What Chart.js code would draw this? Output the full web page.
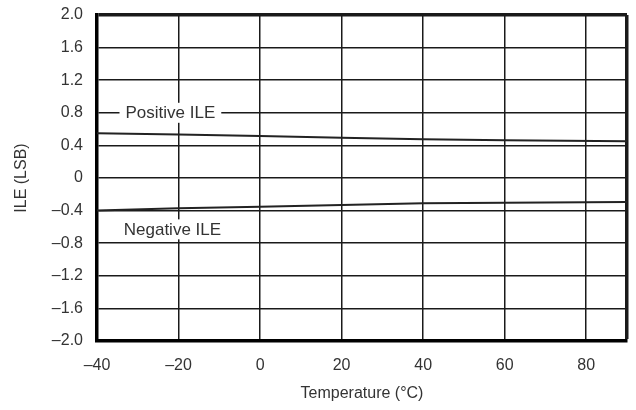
<!DOCTYPE html>
<html>
<head>
<meta charset="utf-8">
<script src="https://cdn.jsdelivr.net/npm/chart.js@4/dist/chart.umd.min.js"></script>
<style>
  html, body { margin: 0; padding: 0; background: #fff; }
  #wrap { width: 636px; height: 410px; }
</style>
</head>
<body>
<div id="wrap"><canvas id="ileChart" width="636" height="410"></canvas></div>
<script>
// ILE vs temperature
const temps = [-40, -20, 0, 20, 40, 60, 90];
const positiveIle = [0.55, 0.535, 0.515, 0.495, 0.475, 0.463, 0.45];
const negativeIle = [-0.40, -0.372, -0.352, -0.332, -0.31, -0.303, -0.295];
const xTicks = [-40, -20, 0, 20, 40, 60, 80];
const curveLabels = [
  { text: 'Positive ILE', x: -22, y: 0.8 },
  { text: 'Negative ILE', x: -21.5, y: -0.63 }
];

const ink = '#1a1a1a';
const font = '"Liberation Sans", Arial, sans-serif';
// negative numbers use an en dash
const fmt = (v, digits) => {
  const s = Math.abs(v).toFixed(digits);
  return v < 0 ? '\u2013' + s : s;
};

// fixed axis sizes; drop the edge padding the tick labels would ask for
const fixSize = (w, h) => s => {
  if (w) s.width = w;
  if (h) s.height = h;
  s.paddingTop = s.paddingBottom = s.paddingLeft = s.paddingRight = 0;
};

// label boxes sit on top of the grid
const curveLabelPlugin = {
  id: 'curveLabels',
  afterDatasetsDraw(chart) {
    const { ctx, scales: { x, y } } = chart;
    ctx.save();
    ctx.font = '17px ' + font;
    ctx.textAlign = 'center';
    ctx.textBaseline = 'middle';
    curveLabels.forEach(l => {
      const px = x.getPixelForValue(l.x);
      const py = y.getPixelForValue(l.y);
      const w = ctx.measureText(l.text).width;
      ctx.fillStyle = '#fff';
      ctx.fillRect(px - w / 2 - 6, py - 10, w + 12, 20);
      ctx.fillStyle = '#333';
      ctx.fillText(l.text, px, py + 1);
    });
    ctx.restore();
  }
};

const toPoints = vals => temps.map((t, i) => ({ x: t, y: vals[i] }));

new Chart(document.getElementById('ileChart').getContext('2d'), {
  type: 'scatter',
  data: {
    datasets: [
      { label: 'Positive ILE', data: toPoints(positiveIle) },
      { label: 'Negative ILE', data: toPoints(negativeIle) }
    ].map(d => Object.assign(d, {
      showLine: true,
      borderColor: '#222',
      borderWidth: 2,
      pointRadius: 0,
      tension: 0
    }))
  },
  options: {
    responsive: false,
    animation: false,
    layout: { autoPadding: false, padding: { top: 15, right: 9, left: 0, bottom: 0 } },
    plugins: { legend: { display: false }, tooltip: { enabled: false } },
    scales: {
      x: {
        type: 'linear',
        min: -40,
        max: 90,
        afterBuildTicks: s => { s.ticks = xTicks.concat([90]).map(v => ({ value: v })); },
        afterFit: fixSize(0, 69),
        ticks: {
          color: '#333',
          padding: 15,
          maxRotation: 0,
          font: { size: 16, family: font },
          callback: v => (v === 90 ? '' : fmt(v, 0))
        },
        grid: {
          color: ink,
          drawTicks: false,
          lineWidth: c => (c.tick && c.tick.value === 90 ? 3.5 : 1.5)
        },
        border: { display: true, color: '#000', width: 3.5 },
        title: {
          display: true,
          text: 'Temperature (\u00B0C)',
          color: '#333',
          padding: { top: 4, bottom: 7 },
          font: { size: 16, family: font }
        }
      },
      y: {
        min: -2,
        max: 2,
        afterFit: fixSize(97, 0),
        ticks: {
          stepSize: 0.4,
          color: '#333',
          padding: 14,
          font: { size: 16, family: font },
          callback: v => {
            const r = Math.round(v * 10) / 10;
            return r === 0 ? '0' : fmt(r, 1);
          }
        },
        grid: {
          color: ink,
          drawTicks: false,
          lineWidth: c => (c.tick && c.tick.value === 2 ? 3.5 : 1.5)
        },
        border: { display: true, color: '#000', width: 3.5 },
        title: {
          display: true,
          text: 'ILE (LSB)',
          color: '#333',
          padding: { top: 12, bottom: 0 },
          font: { size: 16, family: font }
        }
      }
    }
  },
  plugins: [curveLabelPlugin]
});
</script>
</body>
</html>
